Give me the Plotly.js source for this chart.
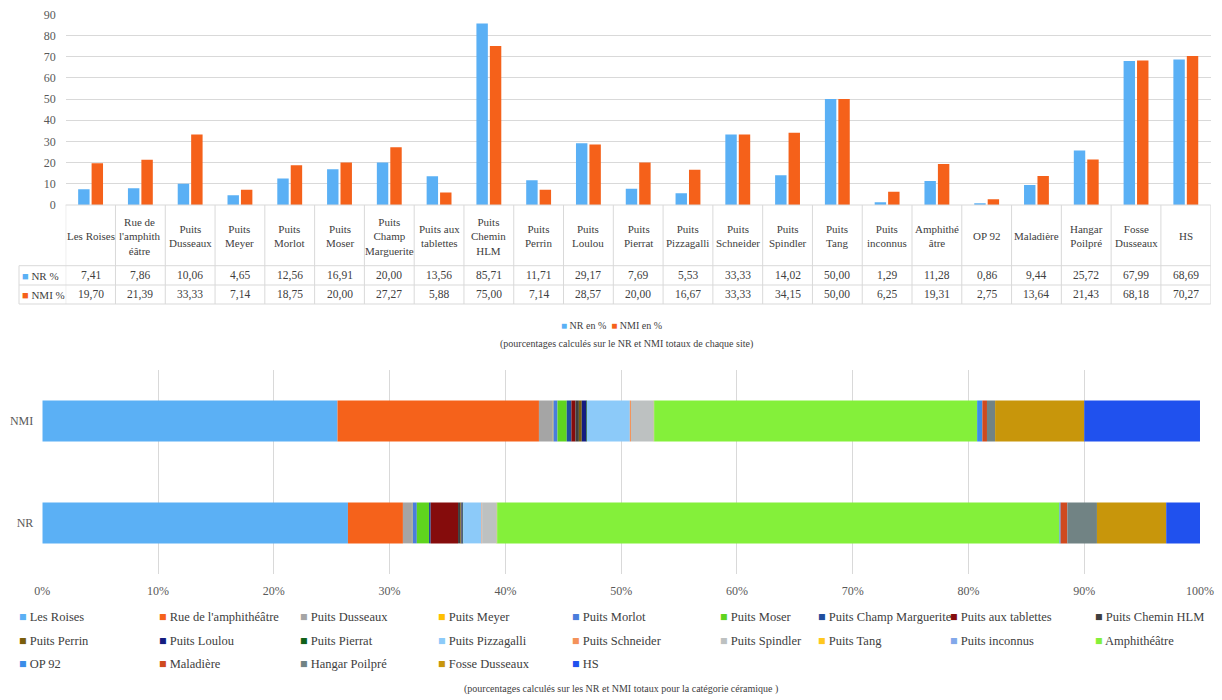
<!DOCTYPE html>
<html><head><meta charset="utf-8">
<script src="https://cdn.plot.ly/plotly-3.0.1.min.js"></script>
<style>html,body{margin:0;padding:0;background:#fff}#chart{width:1222px;height:700px}</style>
</head><body><div id="chart"></div>
<script>
// ---------- DATA ----------
const sites = ['Les Roises', "Rue de l'amphithéâtre", 'Puits Dusseaux', 'Puits Meyer', 'Puits Morlot', 'Puits Moser',
  'Puits Champ Marguerite', 'Puits aux tablettes', 'Puits Chemin HLM', 'Puits Perrin', 'Puits Loulou', 'Puits Pierrat',
  'Puits Pizzagalli', 'Puits Schneider', 'Puits Spindler', 'Puits Tang', 'Puits inconnus', 'Amphithéâtre',
  'OP 92', 'Maladière', 'Hangar Poilpré', 'Fosse Dusseaux', 'HS'];
const siteTableLabels = ['Les Roises', "Rue de<br>l'amphith<br>éâtre", 'Puits<br>Dusseaux', 'Puits<br>Meyer', 'Puits<br>Morlot', 'Puits<br>Moser',
  'Puits<br>Champ<br>Marguerite', 'Puits aux<br>tablettes', 'Puits<br>Chemin<br>HLM', 'Puits<br>Perrin', 'Puits<br>Loulou', 'Puits<br>Pierrat',
  'Puits<br>Pizzagalli', 'Puits<br>Schneider', 'Puits<br>Spindler', 'Puits<br>Tang', 'Puits<br>inconnus', 'Amphithé<br>âtre',
  'OP 92', 'Maladière', 'Hangar<br>Poilpré', 'Fosse<br>Dusseaux', 'HS'];
const nrPct  = [7.41, 7.86, 10.06, 4.65, 12.56, 16.91, 20.00, 13.56, 85.71, 11.71, 29.17, 7.69, 5.53, 33.33, 14.02, 50.00, 1.29, 11.28, 0.86, 9.44, 25.72, 67.99, 68.69];
const nmiPct = [19.70, 21.39, 33.33, 7.14, 18.75, 20.00, 27.27, 5.88, 75.00, 7.14, 28.57, 20.00, 16.67, 33.33, 34.15, 50.00, 6.25, 19.31, 2.75, 13.64, 21.43, 68.18, 70.27];

// share of each site in total ceramic (NR row, NMI row), %
const ceramicNR  = [26.4, 4.75, 0.78, 0.05, 0.37, 1.05, 0.15, 2.36, 0.2, 0.1, 0.1, 0.05, 1.58, 0.05, 1.2, 0.05, 0.05, 48.57, 0.1, 0.58, 2.56, 5.98, 3.0];
const ceramicNMI = [25.5, 17.4, 1.2, 0.05, 0.35, 0.8, 0.4, 0.35, 0.3, 0.25, 0.4, 0.05, 3.7, 0.1, 1.9, 0.05, 0.05, 27.9, 0.45, 0.4, 0.7, 7.7, 10.0];
const ceramicColors = ['#5BB0F5', '#F5621B', '#A5A5A5', '#FFC000', '#4A7DDC', '#5FD41E', '#1F4E9E', '#850C0C', '#3F3F3F',
  '#7A5E0C', '#141C80', '#11611A', '#8CCAF9', '#F4925A', '#BDC1C1', '#FFC81E', '#82A8EA', '#84F03A',
  '#3B8DE8', '#CF4A1F', '#718384', '#C8960B', '#2051EE'];
const rowLabels = ['NR', 'NMI'];
const xTicks = [0, 10, 20, 30, 40, 50, 60, 70, 80, 90, 100];
const xTickText = ['0%', '10%', '20%', '30%', '40%', '50%', '60%', '70%', '80%', '90%', '100%'];
const yTicks = [0, 10, 20, 30, 40, 50, 60, 70, 80, 90];

// ---------- LAYOUT HELPERS ----------
const W = 1222, H = 700;
const px = v => v / W;
const py = v => 1 - v / H;
const FONT = '"Liberation Serif", "DejaVu Serif", serif';
const GRID = '#d9d9d9';
const TXT = '#404040';
const fmt = v => v.toFixed(2).replace('.', ',');
const NR_COLOR = '#5AB0F5', NMI_COLOR = '#F5611A';

const traces = [];
traces.push({type: 'bar', name: 'NR en %', x: sites, y: nrPct, xaxis: 'x', yaxis: 'y',
  marker: {color: NR_COLOR}, showlegend: false, offsetgroup: 'nr'});
traces.push({type: 'bar', name: 'NMI en %', x: sites, y: nmiPct, xaxis: 'x', yaxis: 'y',
  marker: {color: NMI_COLOR}, showlegend: false, offsetgroup: 'nmi'});

// stacked 100% bar via cumulative base
const cumNR = [], cumNMI = [];
let aNR = 0, aNMI = 0;
for (let i = 0; i < sites.length; i++) { cumNR.push(aNR); cumNMI.push(aNMI); aNR += ceramicNR[i]; aNMI += ceramicNMI[i]; }
for (let i = 0; i < sites.length; i++) {
  traces.push({type: 'bar', orientation: 'h', name: sites[i], xaxis: 'x2', yaxis: 'y2',
    y: rowLabels, x: [ceramicNR[i], ceramicNMI[i]], base: [cumNR[i], cumNMI[i]],
    offsetgroup: 'stack', width: 0.4, offset: -0.2,
    marker: {color: ceramicColors[i], line: {width: 0}}, showlegend: false});
}

const annotations = [];
const shapes = [];
// table: category labels
for (let i = 0; i < sites.length; i++) {
  annotations.push({xref: 'x', yref: 'paper', x: sites[i], y: py(236), text: siteTableLabels[i], showarrow: false,
    xanchor: 'center', yanchor: 'middle', font: {family: FONT, size: 11, color: TXT}});
  annotations.push({xref: 'x', yref: 'paper', x: sites[i], y: py(275.5), text: fmt(nrPct[i]), showarrow: false,
    xanchor: 'center', yanchor: 'middle', font: {family: FONT, size: 11.5, color: TXT}});
  annotations.push({xref: 'x', yref: 'paper', x: sites[i], y: py(294.5), text: fmt(nmiPct[i]), showarrow: false,
    xanchor: 'center', yanchor: 'middle', font: {family: FONT, size: 11.5, color: TXT}});
}
annotations.push({xref: 'paper', yref: 'paper', x: px(20), y: py(275.5), xanchor: 'left', yanchor: 'middle', showarrow: false,
  text: '<span style="color:' + NR_COLOR + '">■</span> NR %', font: {family: FONT, size: 11, color: TXT}});
annotations.push({xref: 'paper', yref: 'paper', x: px(20), y: py(294.5), xanchor: 'left', yanchor: 'middle', showarrow: false,
  text: '<span style="color:' + NMI_COLOR + '">■</span> NMI %', font: {family: FONT, size: 11, color: TXT}});
// table grid
for (let k = 0; k <= sites.length; k++) {
  shapes.push({type: 'line', xref: 'x', yref: 'paper', x0: k - 0.5, x1: k - 0.5, y0: py(205), y1: py(304), line: {color: GRID, width: 1}});
}
[[65.7, 205], [19, 265.7], [19, 285], [19, 304]].forEach(([x0, y]) => {
  shapes.push({type: 'line', xref: 'paper', yref: 'paper', x0: px(x0), x1: px(1210.7), y0: py(y), y1: py(y), line: {color: GRID, width: 1}});
});
shapes.push({type: 'line', xref: 'paper', yref: 'paper', x0: px(19), x1: px(19), y0: py(265.7), y1: py(304), line: {color: GRID, width: 1}});

// top legend + note
annotations.push({xref: 'paper', yref: 'paper', x: px(611), y: py(325), xanchor: 'center', yanchor: 'middle', showarrow: false,
  text: '<span style="color:' + NR_COLOR + '">■</span> NR en %  <span style="color:' + NMI_COLOR + '">■</span> NMI en %',
  font: {family: FONT, size: 10, color: TXT}});
annotations.push({xref: 'paper', yref: 'paper', x: px(626), y: py(344), xanchor: 'center', yanchor: 'middle', showarrow: false,
  text: '(pourcentages calculés sur le NR et NMI totaux de chaque site)', font: {family: FONT, size: 10, color: TXT}});

// bottom legend (grid 9 columns)
const legColX = [17, 157, 298, 436, 570, 718, 816, 948, 1093];
const legRowY = [617, 641, 664];
for (let i = 0; i < sites.length; i++) {
  const r = Math.floor(i / 9), c = i % 9;
  annotations.push({xref: 'paper', yref: 'paper', x: px(legColX[c]), y: py(legRowY[r]), xanchor: 'left', yanchor: 'middle', showarrow: false,
    text: '<span style="color:' + ceramicColors[i] + '">■</span> ' + sites[i], font: {family: FONT, size: 12.5, color: TXT}});
}
annotations.push({xref: 'paper', yref: 'paper', x: px(621), y: py(689), xanchor: 'center', yanchor: 'middle', showarrow: false,
  text: '(pourcentages calculés sur les NR et NMI totaux pour la catégorie céramique )', font: {family: FONT, size: 10, color: TXT}});

const layout = {
  width: W, height: H,
  margin: {l: 0, r: 0, t: 0, b: 0},
  paper_bgcolor: '#fff', plot_bgcolor: '#fff',
  font: {family: FONT, size: 12, color: '#595959'},
  barmode: 'group', bargap: 0.46, bargroupgap: 0.15,
  showlegend: false,
  xaxis: {domain: [px(65.7), px(1210.7)], range: [-0.5, sites.length - 0.5], type: 'category',
    showticklabels: false, showgrid: false, zeroline: false, showline: false, ticks: '', anchor: 'y'},
  yaxis: {domain: [py(205), py(14.3)], range: [0, 90], tickvals: yTicks, showgrid: true, gridcolor: GRID, zeroline: false,
    showline: false, ticks: '', ticklabelstandoff: 9, tickfont: {family: FONT, size: 12, color: '#595959'}, anchor: 'x'},
  xaxis2: {domain: [px(42.3), px(1200)], range: [0, 100], tickvals: xTicks, ticktext: xTickText, showgrid: true, gridcolor: GRID,
    zeroline: false, showline: false, ticks: '', ticklabelstandoff: 8, tickfont: {family: FONT, size: 12, color: '#595959'}, anchor: 'y2'},
  yaxis2: {domain: [py(574), py(370)], range: [-0.5, 1.5], type: 'category', categoryorder: 'array', categoryarray: rowLabels,
    showgrid: false, zeroline: false, showline: false, ticks: '', ticklabelstandoff: 8, tickfont: {family: FONT, size: 12, color: '#595959'}, anchor: 'x2'},
  annotations: annotations,
  shapes: shapes
};
Plotly.newPlot('chart', traces, layout, {staticPlot: true, displayModeBar: false});
</script>
</body></html>
